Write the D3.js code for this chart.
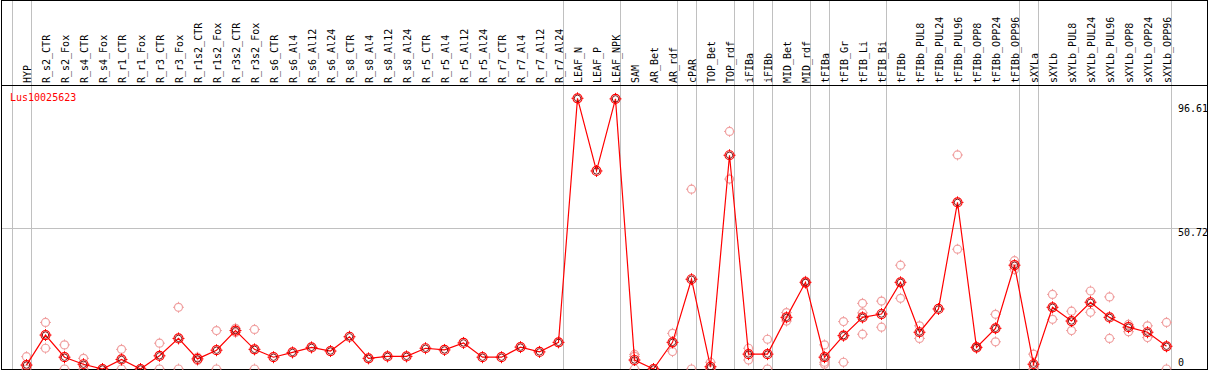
<!DOCTYPE html>
<html>
<head>
<meta charset="utf-8">
<script src="https://cdn.jsdelivr.net/npm/d3@7"></script>
<style>
  body { margin: 0; background: #fff; }
  text { font-family: "DejaVu Sans Mono", "Liberation Mono", monospace; font-size: 10px; }
</style>
</head>
<body>
<div id="chart"></div>
<script>
// Sample names (columns), left to right
const categories = [
  "HYP", "R_s2_CTR", "R_s2_Fox", "R_s4_CTR", "R_s4_Fox", "R_r1_CTR", "R_r1_Fox", "R_r3_CTR", "R_r3_Fox",
  "R_r1s2_CTR", "R_r1s2_Fox", "R_r3s2_CTR", "R_r3s2_Fox", "R_s6_CTR", "R_s6_Al4", "R_s6_Al12", "R_s6_Al24",
  "R_s8_CTR", "R_s8_Al4", "R_s8_Al12", "R_s8_Al24", "R_r5_CTR", "R_r5_Al4", "R_r5_Al12", "R_r5_Al24",
  "R_r7_CTR", "R_r7_Al4", "R_r7_Al12", "R_r7_Al24", "LEAF_N", "LEAF_P", "LEAF_NPK", "SAM", "AR_Bet", "AR_rdf",
  "cPAR", "TOP_Bet", "TOP_rdf", "iFIBa", "iFIBb", "MID_Bet", "MID_rdf", "tFIBa", "tFIB_Gr", "tFIB_Li", "tFIB_Bi",
  "tFIBb", "tFIBb_PUL8", "tFIBb_PUL24", "tFIBb_PUL96", "tFIBb_OPP8", "tFIBb_OPP24", "tFIBb_OPP96",
  "sXYLa", "sXYLb", "sXYLb_PUL8", "sXYLb_PUL24", "sXYLb_PUL96", "sXYLb_OPP8", "sXYLb_OPP24", "sXYLb_OPP96"
];

// Mean expression per sample
const meanValues = [
  1.4, 12.1, 4.2, 1.7, 0, 3.4, 0, 4.7, 10.9,
  3.6, 6.7, 13.7, 7.0, 4.2, 5.9, 7.7, 6.4,
  11.5, 3.8, 4.5, 4.5, 7.4, 6.8, 9.3, 4.2,
  4.2, 7.8, 6.1, 9.5, 96.5, 70.6, 96.3, 3.2, 0, 9.5,
  32.0, 0.8, 76.2, 5.3, 5.3, 18.4, 30.9, 4.2, 11.9, 18.4, 19.6,
  30.9, 13.1, 21.4, 59.4, 7.7, 14.5, 37.0,
  1.7, 22.0, 17.1, 23.8, 18.4, 14.9, 13.1, 8.1
];

// Replicate values (null = no replicate drawn)
const repA = [
  4.4, 16.6, 8.6, 3.8, 0, 7.0, 0, 9.2, 22.0,
  4.2, 13.7, 14.5, 14.1, null, null, null, null,
  null, null, null, null, null, null, null, null,
  null, null, null, null, null, null, null, 5.2, 0, 12.7,
  64.1, 2.4, 84.7, 7.4, 10.6, 20.1, 31.3, 8.6, 16.9, 23.4, 24.2,
  37.0, 15.4, null, 76.3, 8.0, 19.5, 38.6,
  5.3, 26.6, 20.6, 27.8, 25.7, 15.9, 15.4, 16.6
];
const repB = [
  0, 7.4, 0, 0, 0, 0, 0, 0, 0,
  3.0, 0, 13.0, 0, null, null, null, null,
  null, null, null, null, null, null, null, null,
  null, null, null, null, null, null, null, 4.5, 0, 6.2,
  0, 0, 67.7, 3.2, 0, 17.1, 30.5, 2.4, 2.4, 20.0, 14.9,
  25.2, 10.9, null, 42.7, 7.4, 9.7, 35.5,
  0, 17.7, 13.7, 20.2, 10.9, 13.3, 11.2, 0
];
const repC = [
  null, null, null, null, null, null, null, null, null,
  null, null, null, null, null, null, null, null,
  null, null, null, null, null, null, null, null,
  null, null, null, null, null, null, null, 0, null, null,
  null, 0, null, null, null, null, null, 1.7, null, 12.4, null,
  null, null, null, null, null, null, null,
  0, null, null, null, null, null, null, null
];

// Last sample of each group: a grey separator follows it
const groupEnds = ["HYP", "R_r7_Al24", "LEAF_NPK", "AR_rdf", "cPAR", "TOP_rdf", "iFIBa", "iFIBb",
  "MID_rdf", "tFIBa", "tFIB_Bi", "tFIBb_OPP96", "sXYLa", "sXYLb_OPP96"];

const geneName = "Lus10025623";
const yMax = 96.61;
const yMid = 50.72;

const width = 1209;
const height = 370;
const headerBottom = 85.5;
const plotBottom = 369.5;

const svg = d3.select("#chart")
  .append("svg")
  .attr("width", width)
  .attr("height", height);

const x = d3.scalePoint()
  .domain(categories)
  .range([26.5, 1166.5]);

const y = d3.scaleLinear()
  .domain([0, yMax])
  .range([369, 98]);

// Vertical group separators (full height)
const sepX = [x(categories[0]) - x.step() + 4].concat(groupEnds.map(c => x(c) + 4));
svg.selectAll("line.sep")
  .data(sepX)
  .enter()
  .append("line")
  .attr("class", "sep")
  .attr("x1", d => Math.round(d) + 0.5)
  .attr("x2", d => Math.round(d) + 0.5)
  .attr("y1", 0)
  .attr("y2", height)
  .attr("stroke", "#c0c0c0")
  .attr("stroke-width", 1);

// Horizontal mid gridline
const midY = Math.round(y(yMid)) + 1.5;
svg.append("line")
  .attr("x1", 1).attr("x2", 1207)
  .attr("y1", midY).attr("y2", midY)
  .attr("stroke", "#c0c0c0");

// Header labels, rotated
svg.selectAll("text.cat")
  .data(categories)
  .enter()
  .append("text")
  .attr("class", "cat")
  .attr("transform", d => `translate(${x(d) + 4}, 83) rotate(-90)`)
  .attr("fill", "#000")
  .text(d => d);

// Frame and header separator
svg.append("rect")
  .attr("x", 1.5).attr("y", 0.5)
  .attr("width", 1206).attr("height", 369)
  .attr("fill", "none")
  .attr("stroke", "#000");
svg.append("line")
  .attr("x1", 1).attr("x2", 1208)
  .attr("y1", headerBottom).attr("y2", headerBottom)
  .attr("stroke", "#000");

// Axis value labels at the right
svg.append("text").attr("x", 1178).attr("y", y(yMax) + 13.5).text(yMax.toFixed(2));
svg.append("text").attr("x", 1178).attr("y", midY + 7.5).text(yMid.toFixed(2));
svg.append("text").attr("x", 1178).attr("y", y(0) - 3.5).text("0");

// Gene name
svg.append("text")
  .attr("x", 10).attr("y", 101)
  .attr("fill", "#ff0000")
  .text(geneName);

// Plot clip
svg.append("clipPath").attr("id", "plotClip")
  .append("rect")
  .attr("x", 2).attr("y", 86)
  .attr("width", 1205).attr("height", plotBottom - 86);

const plot = svg.append("g").attr("clip-path", "url(#plotClip)");

function marker(g, cx, cy, color, r) {
  g.append("circle")
    .attr("cx", cx).attr("cy", cy).attr("r", r)
    .attr("fill", "none").attr("stroke", color).attr("stroke-width", 1.2);
  [[0, -1], [0, 1], [-1, 0], [1, 0]].forEach(([dx, dy]) => {
    g.append("line")
      .attr("x1", cx + dx * (r - 0.5)).attr("y1", cy + dy * (r - 0.5))
      .attr("x2", cx + dx * (r + 1.5)).attr("y2", cy + dy * (r + 1.5))
      .attr("stroke", color).attr("stroke-width", 1);
  });
}

// Replicate points
const repColor = "#f0a0a0";
[repA, repB, repC].forEach(rep => {
  rep.forEach((v, i) => {
    if (v === null) return;
    marker(plot, x(categories[i]), y(v), repColor, 4);
  });
});

// Mean line
const line = d3.line()
  .x((d, i) => x(categories[i]))
  .y(d => y(d));

plot.append("path")
  .datum(meanValues)
  .attr("d", line)
  .attr("fill", "none")
  .attr("stroke", "#ff0000")
  .attr("stroke-width", 1.2);

// Mean points
meanValues.forEach((v, i) => {
  const cx = x(categories[i]);
  const cy = y(v);
  marker(plot, cx, cy, "#ff0000", 4.5);
  plot.append("circle")
    .attr("cx", cx).attr("cy", cy).attr("r", 3.2)
    .attr("fill", "none").attr("stroke", "#700000").attr("stroke-width", 0.9);
});
</script>
</body>
</html>
